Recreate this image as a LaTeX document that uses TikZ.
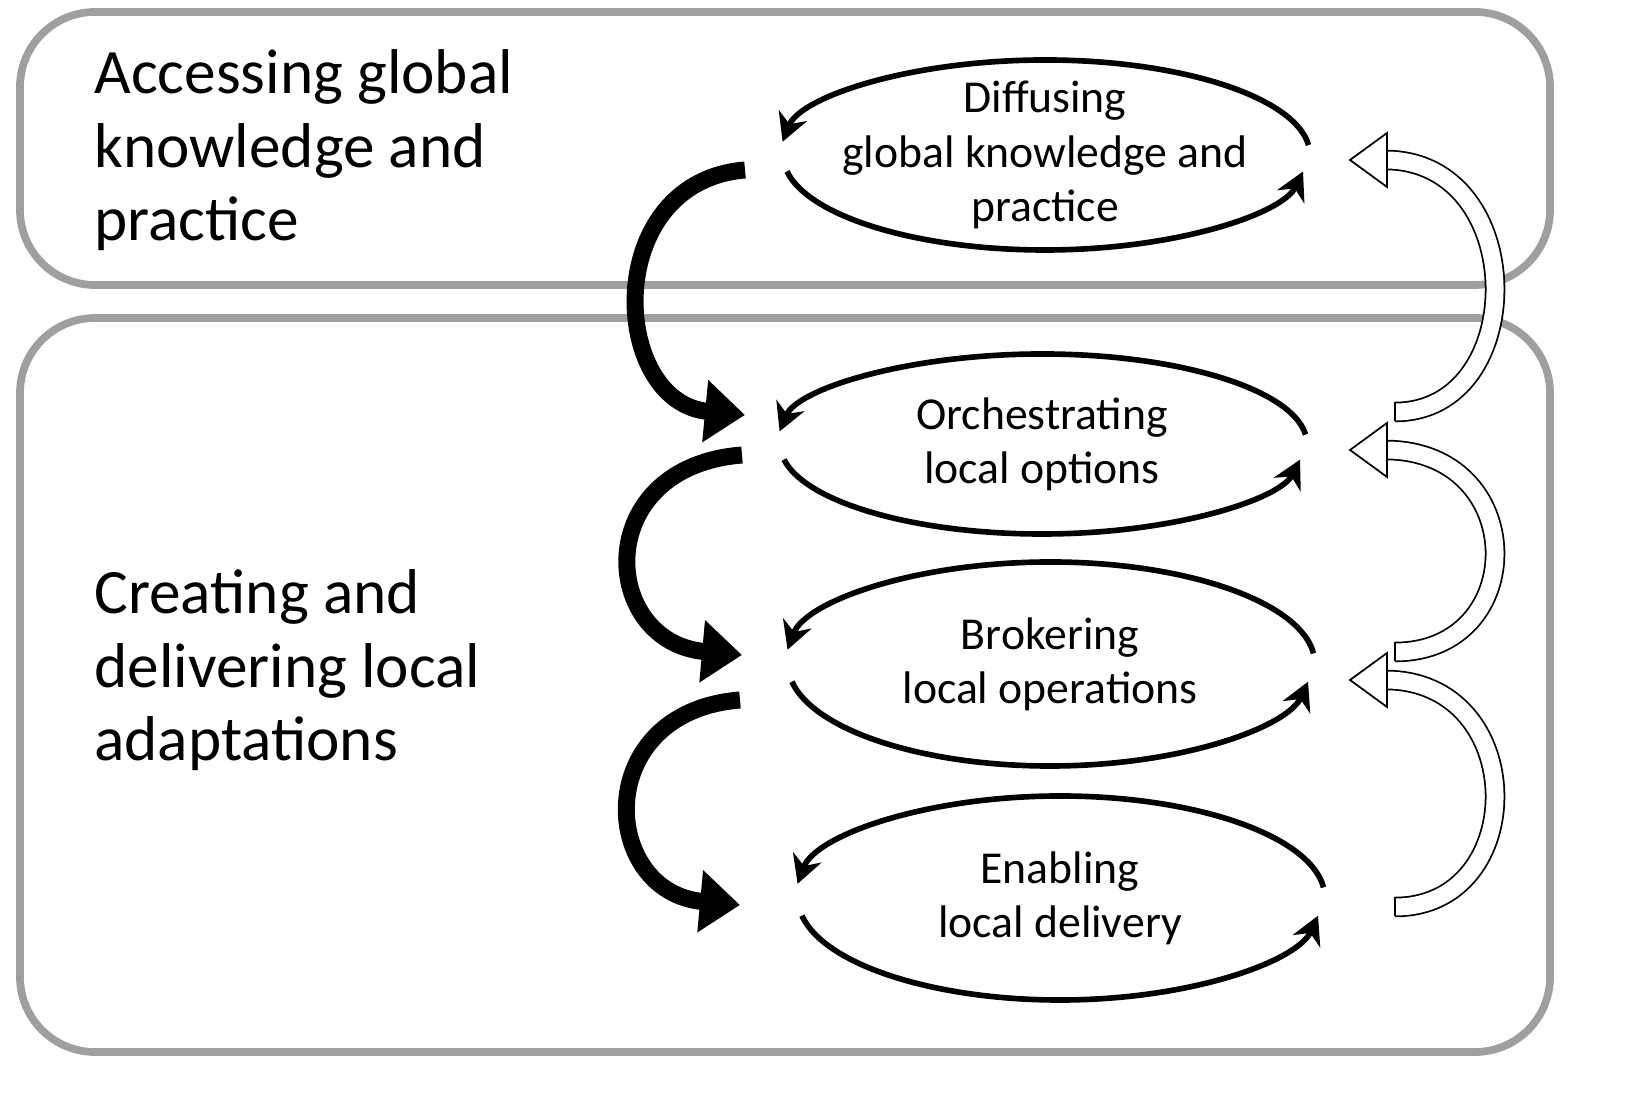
\documentclass[tikz,border=0pt]{standalone}
\usepackage{fontspec}
\setmainfont{Carlito}
\usetikzlibrary{arrows.meta,positioning}
\tikzset{
  frame/.style={draw=gray!75, line width=2.2pt, rounded corners=0.75cm},
  big/.style={font=\fontsize{18}{21}\selectfont, align=left, anchor=north west},
  stage/.style={font=\fontsize{13}{15.4}\selectfont, align=center},
  cyc/.style={line width=1.6pt, -{Stealth[length=0.28cm,width=0.3cm]}},
  down/.style={line width=0.17cm, -{Triangle[length=0.4cm,width=0.6cm]}},
  up/.style={draw=black, line width=0.5pt, double=white, double distance=0.17cm}
}
\begin{document}
\begin{tikzpicture}
\useasboundingbox (0,0) rectangle (16.31,11.12);
% frames
\draw[frame] (0.2,8.27) rectangle (15.5,11.0);
\draw[frame] (0.2,0.6) rectangle (15.5,7.94);
\node[big] (access) at (0.82,10.75) {Accessing global\\knowledge and\\practice};
\node[big] (create) at (0.82,5.55) {Creating and\\delivering local\\adaptations};
% stages
\node[stage] (diff) at (10.45,9.57) {Diffusing\\global knowledge and\\practice};
\node[stage] (orch) at (10.42,6.68) {Orchestrating\\local options};
\node[stage] (brok) at (10.5,4.48) {Brokering\\local operations};
\node[stage] (enab) at (10.6,2.14) {Enabling\\local delivery};
% cycles
\foreach \c/\ry in {diff/0.95, orch/0.9, brok/1.02, enab/1.02}{
  \draw[cyc, shift={(\c.center)}] (6:2.65cm and \ry cm) arc[start angle=6, end angle=172, x radius=2.65, y radius=\ry];
  \draw[cyc, shift={(\c.center)}] (190:2.62cm and \ry cm) arc[start angle=190, end angle=350, x radius=2.62, y radius=\ry];
}
% links down
\coordinate (d1) at (7.45,9.42);
\coordinate (d2) at (7.45,6.97);
\coordinate (d3) at (7.42,6.57);
\coordinate (d4) at (7.42,4.57);
\coordinate (d5) at (7.40,4.12);
\coordinate (d6) at (7.40,2.07);
\draw[down] (d1) .. controls (6.0,9.3) and (6.1,7.1) .. (d2);
\draw[down] (d3) .. controls (5.9,6.45) and (6.0,4.7) .. (d4);
\draw[down] (d5) .. controls (5.9,4.0) and (6.0,2.2) .. (d6);
% links up
\foreach \t/\h in {7.0/9.52, 4.6/6.62, 2.05/4.32}{
  \coordinate (t) at (13.95,\t);
  \coordinate (h) at (13.5,\h);
  \draw[up] (t) .. controls (15.3,\t) and (15.3,\h) .. ([xshift=0.35cm]h);
  \draw[line width=0.5pt] ([yshift=0.095cm]t) -- ([yshift=-0.095cm]t);
  \draw[fill=white, line width=0.5pt] (h) -- ++(0.37,0.27) -- ++(0,-0.54) -- cycle;
}
\end{tikzpicture}
\end{document}
